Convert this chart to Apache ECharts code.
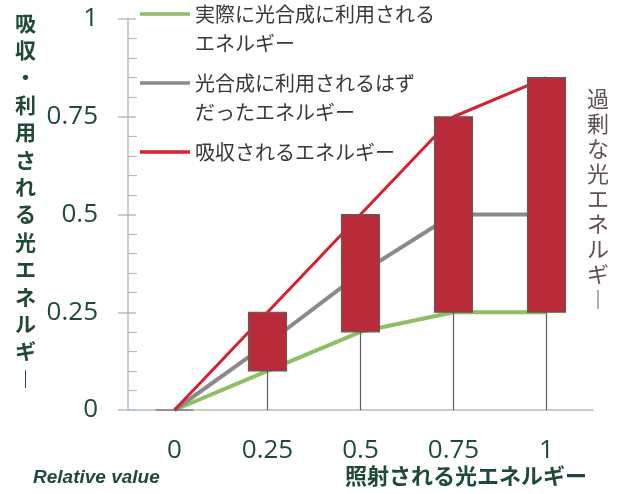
<!DOCTYPE html>
<html>
<head>
<meta charset="utf-8">
<script src="https://cdn.jsdelivr.net/npm/echarts@6/dist/echarts.min.js"></script>
<style>
  html, body { margin: 0; padding: 0; background: #fff; }
  #chart { width: 618px; height: 494px; }
</style>
</head>
<body>
<div id="chart"></div>
<script>
// Irradiated light (relative value) on the x axis
const xCategories = ['0', '0.25', '0.5', '0.75', '1'];
// Y axis ticks
const yTicks = [0, 0.25, 0.5, 0.75, 1];

// Series values
const absorbedEnergy = [0, 0.25, 0.5, 0.75, 0.85];   // 吸収されるエネルギー
const expectedEnergy = [0, 0.17, 0.35, 0.5, 0.5];    // 光合成に利用されるはずだったエネルギー
const actualEnergy = [0, 0.1, 0.2, 0.25, 0.25];      // 実際に光合成に利用されるエネルギー

const names = {
  actual: '実際に光合成に利用されるエネルギー',
  expected: '光合成に利用されるはずだったエネルギー',
  absorbed: '吸収されるエネルギー'
};
const wrapped = {
  [names.actual]: '実際に光合成に利用される\nエネルギー',
  [names.expected]: '光合成に利用されるはず\nだったエネルギー',
  [names.absorbed]: '吸収されるエネルギー'
};

// Excess light: box spans from the actually used energy up to the absorbed energy,
// with a wick down to zero.  [open, close, lowest, highest]
const excessBoxes = xCategories.map((_, i) => [actualEnergy[i], absorbedEnergy[i], 0, absorbedEnergy[i]]);

const JP = '"Noto Sans CJK JP", "Noto Sans", sans-serif';
const NUM = '"Open Sans", "Noto Sans", sans-serif';
const darkGreen = '#1f4b36';
const axisGrey = '#aec4b0';

const vertical = s => s.split('').map(c => c === 'ー' ? '︱' : c).join('\n');

// Legend entry whose line marker sits level with the first text row.
const LINE_H = 29;
const ICON_W = 50;
const ICON_T = 3.5;
function legendFor(name, iconY, lines) {
  if (lines === 1) {
    return {
      data: [{ name: name, icon: 'rect' }],
      left: 140, top: iconY - LINE_H / 2, padding: 0,
      itemWidth: ICON_W, itemHeight: ICON_T,
      selectedMode: false,
      formatter: n => wrapped[n],
      textStyle: { fontFamily: JP, fontSize: 20, lineHeight: LINE_H, color: '#383838' }
    };
  }
  // marker box tall enough that its top edge lines up with the first row
  const boxH = (lines - 1) * LINE_H + ICON_T;
  const path = 'path://M0,0L' + ICON_W + ',0L' + ICON_W + ',' + ICON_T + 'L0,' + ICON_T + 'Z' +
               'M0,' + boxH + 'L0.01,' + boxH + 'L0.01,' + (boxH - 0.01) + 'Z';
  const textTop = boxH / 2 - (lines * LINE_H) / 2;
  return {
    data: [{ name: name, icon: path }],
    left: 140, top: iconY - ICON_T / 2 + textTop, padding: 0,
    itemWidth: ICON_W, itemHeight: boxH,
    selectedMode: false,
    formatter: n => wrapped[n],
    textStyle: { fontFamily: JP, fontSize: 20, lineHeight: LINE_H, color: '#383838' }
  };
}

const chart = echarts.init(document.getElementById('chart'), null, { renderer: 'canvas' });

chart.setOption({
  backgroundColor: '#ffffff',
  animation: false,
  grid: { left: 128, right: 25, top: 19, bottom: 84 },
  title: [
    {
      text: vertical('吸収・利用される光エネルギー'),
      left: 15, top: 9, padding: 0,
      textStyle: { fontFamily: JP, fontSize: 21, fontWeight: 'bold', lineHeight: 27.4, color: darkGreen }
    },
    {
      text: vertical('過剰な光エネルギー'),
      left: 587, top: 86, padding: 0,
      textStyle: { fontFamily: JP, fontSize: 22, fontWeight: 'normal', lineHeight: 25, color: '#5f5054' }
    },
    {
      text: 'Relative value',
      left: 33, top: 468, padding: 0,
      textStyle: { fontFamily: '"Liberation Sans", Arial, sans-serif', fontSize: 19, fontStyle: 'italic', fontWeight: 'bold', color: darkGreen }
    },
    {
      text: '照射される光エネルギー',
      left: 345, top: 465, padding: 0,
      textStyle: { fontFamily: JP, fontSize: 22, fontWeight: 'bold', color: darkGreen }
    }
  ],
  legend: [
    legendFor(names.actual, 14, 2),
    legendFor(names.expected, 83, 2),
    legendFor(names.absorbed, 152, 1)
  ],
  xAxis: {
    type: 'category',
    data: xCategories,
    boundaryGap: true,
    axisLine: { lineStyle: { color: axisGrey, width: 1.5 } },
    axisTick: { show: false },
    axisLabel: { fontFamily: NUM, fontSize: 26, color: darkGreen, margin: 28 },
    splitLine: { show: false }
  },
  yAxis: [
    {
      type: 'value',
      min: yTicks[0], max: yTicks[yTicks.length - 1], interval: yTicks[1] - yTicks[0],
      axisLine: { show: true, lineStyle: { color: axisGrey, width: 1.5 } },
      axisTick: { show: true, length: 10, lineStyle: { color: axisGrey, width: 1.5 } },
      axisLabel: { fontFamily: NUM, fontSize: 26, color: darkGreen, margin: 30 },
      splitLine: { show: false }
    },
    {
      type: 'value',
      position: 'left',
      min: yTicks[0], max: yTicks[yTicks.length - 1], interval: yTicks[1] - yTicks[0],
      axisLine: { show: false },
      axisTick: { show: true, inside: true, length: 8, lineStyle: { color: axisGrey, width: 1.5 } },
      minorTick: { show: true, splitNumber: 5, length: 9, lineStyle: { color: axisGrey, width: 1.2 } },
      axisLabel: { show: false },
      splitLine: { show: false }
    }
  ],
  series: [
    {
      name: names.actual, type: 'line', data: actualEnergy, z: 1,
      symbol: 'none', color: '#8cc063',
      lineStyle: { width: 4, color: '#8cc063' }
    },
    {
      name: names.expected, type: 'line', data: expectedEnergy, z: 1,
      symbol: 'none', color: '#8a8a8a',
      lineStyle: { width: 4, color: '#8a8a8a' }
    },
    {
      name: names.absorbed, type: 'line', data: absorbedEnergy, z: 1,
      symbol: 'none', color: '#d6222f',
      lineStyle: { width: 3, color: '#d6222f' }
    },
    {
      name: '過剰な光エネルギー', type: 'candlestick', data: excessBoxes, z: 3,
      barWidth: 38,
      itemStyle: {
        color: '#ba2b39', color0: '#ba2b39',
        borderColor: '#5a5f58', borderColor0: '#5a5f58', borderWidth: 1.2
      }
    }
  ]
});
</script>
</body>
</html>
